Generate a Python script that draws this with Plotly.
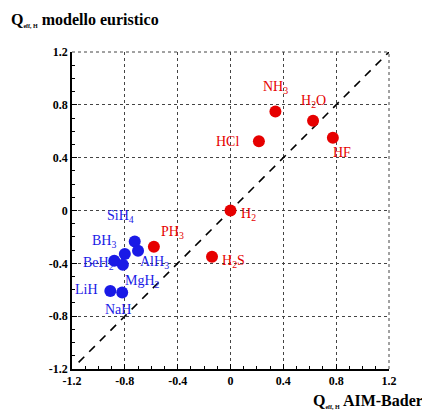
import plotly.graph_objects as go

# Data
red_names = ["NH<sub>3</sub>", "H<sub>2</sub>O", "HCl", "HF", "H<sub>2</sub>", "H<sub>2</sub>S", "PH<sub>3</sub>"]
red_x = [0.34, 0.625, 0.215, 0.775, 0.0, -0.14, -0.58]
red_y = [0.75, 0.68, 0.525, 0.55, 0.0, -0.35, -0.275]
red_dx = [0, 0, -31, 9, 18, 21, 19]
red_dy = [24, 19, 0, -15, -4, -5, 14]

blue_names = ["SiH<sub>4</sub>", "AlH<sub>3</sub>", "BH<sub>3</sub>", "BeH<sub>2</sub>", "MgH<sub>2</sub>", "LiH", "NaH"]
blue_x = [-0.725, -0.70, -0.80, -0.88, -0.815, -0.91, -0.82]
blue_y = [-0.235, -0.305, -0.33, -0.38, -0.41, -0.61, -0.62]
blue_dx = [-14, 16, -21, -16, 20, -24, -4]
blue_dy = [25, -12, 13, -3, -17, 2, -17]

ticks = [-1.2, -0.8, -0.4, 0, 0.4, 0.8, 1.2]
tick_labels = ["-1.2", "-0.8", "-0.4", "0", "0.4", "0.8", "1.2"]

RED = "#e60000"
BLUE = "#1a1ae6"
SERIF = "Liberation Serif"

fig = go.Figure()
fig.add_trace(go.Scatter(x=[-1.15, 1.2], y=[-1.15, 1.2], mode="lines",
                         line=dict(color="black", width=1.6, dash="8px,7px"),
                         hoverinfo="skip", showlegend=False))
fig.add_trace(go.Scatter(x=red_x, y=red_y, mode="markers",
                         marker=dict(color=RED, size=12), showlegend=False))
fig.add_trace(go.Scatter(x=blue_x, y=blue_y, mode="markers",
                         marker=dict(color=BLUE, size=12), showlegend=False))

for names, xs, ys, dxs, dys, col in [(red_names, red_x, red_y, red_dx, red_dy, RED),
                                      (blue_names, blue_x, blue_y, blue_dx, blue_dy, BLUE)]:
    for n, x, y, dx, dy in zip(names, xs, ys, dxs, dys):
        fig.add_annotation(x=x, y=y, text=n, showarrow=False, xshift=dx, yshift=dy,
                           font=dict(family=SERIF, size=14, color=col))

axis_common = dict(range=[-1.2, 1.2], tickvals=ticks, ticktext=["<b>%s</b>" % t for t in tick_labels],
                   showgrid=True, gridcolor="#444", griddash="dot", gridwidth=1,
                   zeroline=False, showline=True, linecolor="black", linewidth=1.5,
                   ticks="inside", ticklen=5, tickcolor="black",
                   tickfont=dict(family=SERIF, size=12, color="black"),
                   minor=dict(ticks="inside", ticklen=3, dtick=0.1, tickcolor="black", showgrid=False),
                   fixedrange=True)
fig.update_xaxes(**axis_common)
fig.update_yaxes(**axis_common)

# dotted frame on top and right
fig.add_shape(type="line", xref="paper", yref="paper", x0=0, x1=1, y0=1, y1=1,
              line=dict(color="#444", width=1, dash="dot"))
fig.add_shape(type="line", xref="paper", yref="paper", x0=1, x1=1, y0=0, y1=1,
              line=dict(color="#444", width=1, dash="dot"))

fig.add_annotation(xref="paper", yref="paper", x=-0.2, y=1.10, xanchor="left", yanchor="middle",
                   text="<b>Q<sub><span style='font-size:6px'>eff, H</span></sub> modello euristico</b>",
                   showarrow=False, font=dict(family=SERIF, size=16, color="black"))
fig.add_annotation(xref="paper", yref="paper", x=1.115, y=-0.10, xanchor="right", yanchor="middle",
                   text="<b>Q<sub><span style='font-size:6px'>eff, H</span></sub> AIM-Bader</b>",
                   showarrow=False, font=dict(family=SERIF, size=16, color="black"))

# page body has an 8px margin, so the figure is drawn 8px smaller with reduced margins
fig.update_layout(width=422, height=405, margin=dict(l=64, r=41, t=44, b=44),
                  plot_bgcolor="white", paper_bgcolor="white")
fig.write_html("out.html")
